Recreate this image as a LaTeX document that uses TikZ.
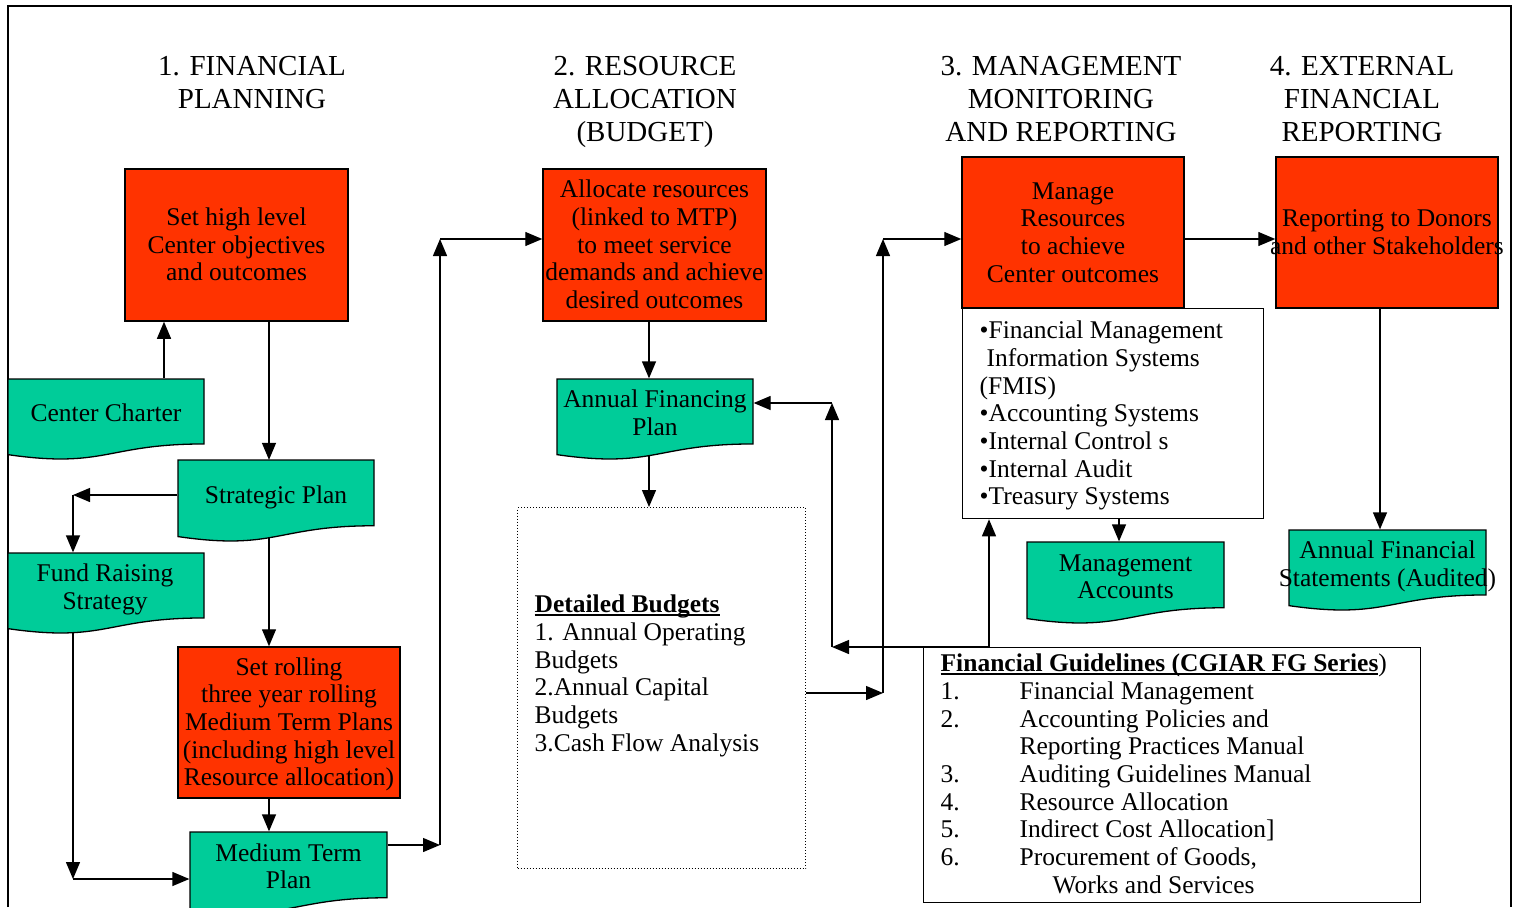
\documentclass[tikz,border=0pt]{standalone}
\usepackage{fontspec}
\setmainfont{Liberation Serif}
\usetikzlibrary{arrows.meta}

\definecolor{boxred}{RGB}{255,51,0}
\definecolor{boxgreen}{RGB}{0,204,153}

% type sizes and struts that fix the first and last line of every text block
\newcommand\bodysize{\fontsize{25.5pt}{27.7pt}\selectfont}
\newcommand\headsize{\fontsize{29pt}{33pt}\selectfont}
\newcommand\tstr[1]{\rule[-8.3pt]{0pt}{\dimexpr27.7pt+#1\relax}}
\newcommand\bstr{\rule[-8.3pt]{0pt}{8.3pt}}
\newcommand\htstr{\rule[-9.9pt]{0pt}{33pt}}
\newcommand\hbstr{\rule[-9.9pt]{0pt}{9.9pt}}
% first-line struts for the box kinds
\newcommand\rs{\tstr{5pt}}
\newcommand\ds{\tstr{9pt}}
\newcommand\ls{\tstr{0pt}}
% a line that may run over the edge of its box, kept centred
\newcommand\ovl[1]{\makebox[0pt]{#1}}
% underline set close to the baseline
\newcommand\undl[1]{\sbox0{#1}\rlap{\rule[-3pt]{\wd0}{1.2pt}}\usebox0}
% document symbol: left, top, right, full height
\newcommand\docshape[4]{%
  \pgfmathsetmacro\dA{#2+0.802*#4}%
  \pgfmathsetmacro\dB{#2+1.108*#4}%
  \pgfmathsetmacro\dC{#2+0.934*#4}%
  \pgfmathsetmacro\dM{(#1+#3)/2}%
  \filldraw[docline] (#1,#2) -- (#3,#2) -- (#3,\dA)
    .. controls (\dM,\dA) and (\dM,\dB) .. (#1,\dC) -- cycle;}

\begin{document}
\begin{tikzpicture}[x=1pt, y=-1pt, line width=1.3pt,
  arr/.style={-{Triangle[length=17pt,width=14pt]}},
  frameline/.style={line width=1.5pt},
  head/.style={anchor=north, inner sep=0pt, align=center, font=\headsize},
  redbox/.style={draw=black, fill=boxred, line width=1.5pt, inner sep=0pt,
    align=center, font=\bodysize},
  docline/.style={draw=black, fill=boxgreen, line width=1.3pt},
  doctext/.style={inner sep=0pt, align=center, font=\bodysize,
    minimum width=196pt, minimum height=65pt},
  plainbox/.style={draw=black, fill=white, line width=1.3pt, inner sep=0pt, anchor=north west},
  listtext/.style={anchor=north west, inner sep=0pt, align=left, font=\bodysize}]

\useasboundingbox (0,0) rectangle (1517,907);
\draw[frameline] (8,907) -- (8,6) -- (1511,6) -- (1511,907);

% column headings
\node[head] (h1) at (252,51.9) {\htstr 1. FINANCIAL\\PLANNING\hbstr};
\node[head] (h2) at (645,51.9) {\htstr 2. RESOURCE\\ALLOCATION\\(BUDGET)\hbstr};
\node[head] (h3) at (1061,51.9) {\htstr 3. MANAGEMENT\\MONITORING\\AND REPORTING\hbstr};
\node[head] (h4) at (1362,51.9) {\htstr 4. EXTERNAL\\FINANCIAL\\REPORTING\hbstr};

% process boxes
\node[redbox, minimum width=223pt, minimum height=152pt] (plan) at (236.5,245)
  {\rs Set high level\\Center objectives\\and outcomes\bstr};
\node[redbox, minimum width=223pt, minimum height=152pt] (alloc) at (654.5,245)
  {\rs Allocate resources\\(linked to MTP)\\to meet service\\demands and achieve\\desired outcomes\bstr};
\node[redbox, minimum width=222pt, minimum height=151pt] (manage) at (1073,232.5)
  {\rs Manage\\Resources\\to achieve\\Center outcomes\bstr};
\node[redbox, minimum width=222pt, minimum height=151pt] (report) at (1387,232.5)
  {\rs Reporting to Donors\\\ovl{and other Stakeholders}\bstr};
\node[redbox, minimum width=222pt, minimum height=151pt] (roll) at (289,722.5)
  {\rs Set rolling\\three year rolling\\Medium Term Plans\\(including high level\\Resource allocation)\bstr};

% documents
\docshape{8}{379}{204}{81}
\node[doctext] (charter) at (106,411.5) {\ds Center Charter\bstr};
\docshape{178}{460}{374}{82}
\node[doctext] (strat) at (276,493) {\ds Strategic Plan\bstr};
\docshape{8}{553}{204}{81}
\node[doctext] (fund) at (105,585.5) {\ds Fund Raising\\Strategy\bstr};
\docshape{190}{832}{387}{82}
\node[doctext, minimum width=197pt, minimum height=66pt] (mtp) at (288.5,865) {\ds Medium Term\\Plan\bstr};
\docshape{557}{379}{753}{81}
\node[doctext] (afp) at (655,411.5) {\ds Annual Financing\\Plan\bstr};
\docshape{1027}{542}{1224}{82}
\node[doctext, minimum width=197pt, minimum height=66pt] (macc) at (1125.5,575) {\ds Management\\Accounts\bstr};
\docshape{1289}{530}{1486}{81}
\node[doctext, minimum width=197pt] (afs) at (1387.5,562.5) {\ds Annual Financial\\\ovl{Statements (Audited)}\bstr};

% systems list
\node[plainbox, minimum width=301pt, minimum height=210pt] (tools) at (962,308) {};
\node[listtext] (toolsT) at (979,318.6)
  {\ls•Financial Management\\\hspace*{7pt}Information Systems\\(FMIS)\\•Accounting Systems\\•Internal Control s\\•Internal Audit\\•Treasury Systems};

% detailed budgets
\node[draw=black, dotted, line width=1pt, inner sep=0pt, anchor=north west,
  minimum width=288pt, minimum height=361pt] (budget) at (517,507) {};
\node[listtext] (budgetT) at (534,592.6)
  {\ls\textbf{\undl{Detailed Budgets}}\\1. Annual Operating\\Budgets\\2.Annual Capital\\Budgets\\3.Cash Flow Analysis};

% financial guidelines
\node[plainbox, minimum width=497pt, minimum height=255pt] (guide) at (923,647) {};
\node[listtext] (guideT) at (940,651.6)
  {\ls\undl{\textbf{Financial Guidelines (CGIAR FG Series}})\\
   \makebox[79pt][l]{1.}Financial Management\\
   \makebox[79pt][l]{2.}Accounting Policies and\\
   \hspace*{79pt}Reporting Practices Manual\\
   \makebox[79pt][l]{3.}Auditing Guidelines Manual\\
   \makebox[79pt][l]{4.}Resource Allocation\\
   \makebox[79pt][l]{5.}Indirect Cost Allocation]\\
   \makebox[79pt][l]{6.}Procurement of Goods,\\
   \hspace*{112pt}Works and Services};

% connector guide points
\coordinate (cx1) at (164,0);
\coordinate (spine) at (269,0);
\coordinate (stratB) at (269,538);
\coordinate (k1) at (73,495);
\coordinate (fundB) at (73,632);
\coordinate (k2) at (73,879);
\coordinate (k3) at (440,845);
\coordinate (k4) at (440,239);
\coordinate (sx2) at (649,0);
\coordinate (afpB) at (649,455);
\coordinate (k5) at (883,693);
\coordinate (k6) at (883,239);
\coordinate (sx3) at (1380,0);
\coordinate (sx4) at (1119,0);
\coordinate (k7) at (989,647);
\coordinate (k8) at (832,647);
\coordinate (k9) at (832,403);

% column 1
\draw[arr] (charter.north -| cx1) -- (plan.south -| cx1);
\draw[arr] (plan.south -| spine) -- (strat.north -| spine);
\draw[arr] (stratB) -- (roll.north -| spine);
\draw[arr] (roll.south -| spine) -- (mtp.north -| spine);
\draw[arr] (strat.west |- k1) -- (k1);
\draw[arr] (k1) -- (k1 |- fund.north);
\draw[arr] (fundB) -- (k2);
\draw[arr] (k2) -- (k2 -| mtp.west);
% column 1 to column 2
\draw[arr] (mtp.east |- k3) -- (k3);
\draw[arr] (k3) -- (k4);
\draw[arr] (k4) -- (k4 -| alloc.west);
% column 2
\draw[arr] (alloc.south -| sx2) -- (afp.north -| sx2);
\draw[arr] (afpB) -- (afpB |- budget.north);
% column 2 to columns 3 and 4
\draw[arr] (budget.east |- k5) -- (k5);
\draw[arr] (k5) -- (k6);
\draw[arr] (k6) -- (k6 -| manage.west);
\draw[arr] (manage.east |- k6) -- (k6 -| report.west);
\draw[arr] (report.south -| sx3) -- (afs.north -| sx3);
\draw[arr] (tools.south -| sx4) -- (macc.north -| sx4);
% guidelines feed back
\draw[arr] (guide.north -| k7) -- (k7 |- tools.south);
\draw[arr] (k7) -- (k8);
\draw[arr] (k8) -- (k9);
\draw[arr] (k9) -- (k9 -| afp.east);
\end{tikzpicture}
\end{document}
